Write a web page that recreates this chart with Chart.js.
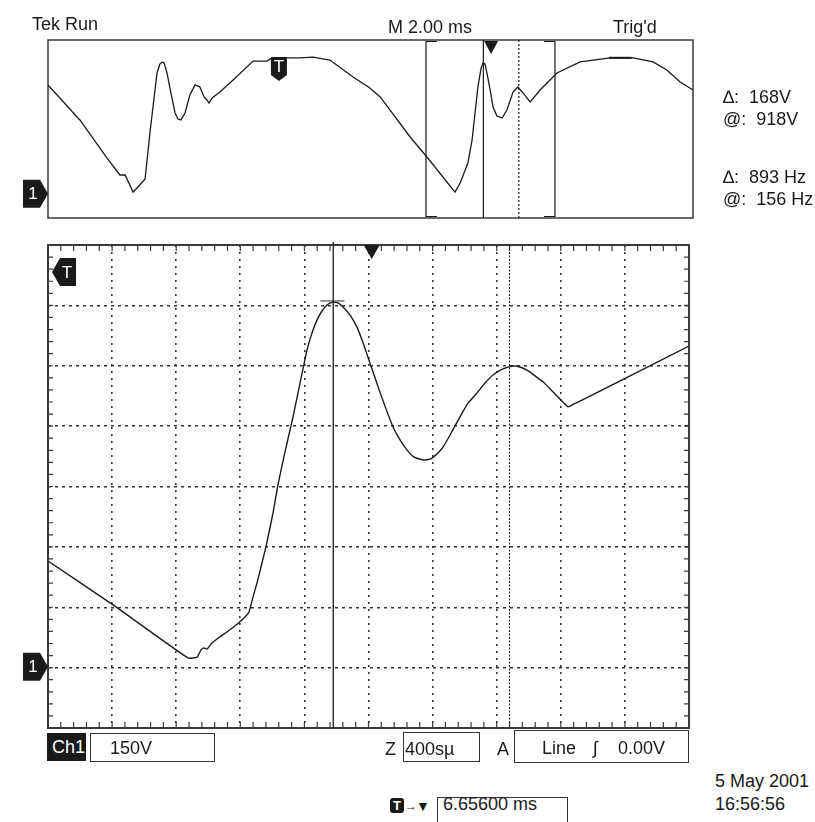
<!DOCTYPE html>
<html>
<head>
<meta charset="utf-8">
<script src="https://cdn.jsdelivr.net/npm/chart.js@4.4.1/dist/chart.umd.min.js"></script>
<style>
  html, body { margin: 0; padding: 0; background: #fff; }
  #page { position: relative; width: 815px; height: 822px; overflow: hidden;
          font-family: "Liberation Sans", Arial, sans-serif; font-size: 18px; color: #1a1a1a; }
  canvas { position: absolute; left: 0; }
  .lbl { position: absolute; line-height: 18px; white-space: pre; }
  .box { position: absolute; border: 1.5px solid #333; box-sizing: border-box; }
</style>
</head>
<body>
<div id="page">
  <canvas id="overview" width="815" height="230" style="top:0"></canvas>
  <canvas id="main" width="815" height="530" style="top:230px"></canvas>

  <div class="lbl" style="left:32px;top:15px">Tek Run</div>
  <div class="lbl" style="left:388px;top:18px">M 2.00 ms</div>
  <div class="lbl" style="left:613px;top:18px">Trig'd</div>

  <div class="lbl" style="left:723px;top:88px">∆:  168V</div>
  <div class="lbl" style="left:723px;top:110px">@:  918V</div>
  <div class="lbl" style="left:723px;top:168px">∆:  893 Hz</div>
  <div class="lbl" style="left:723px;top:190px">@:  156 Hz</div>

  <div class="lbl" style="left:47px;top:733px;width:39px;height:28px;line-height:28px;background:#1a1a1a;color:#fff;padding-left:5px;box-sizing:border-box">Ch1</div>
  <div class="box" style="left:90px;top:733px;width:125px;height:29px"></div>
  <div class="lbl" style="left:110px;top:739px">150V</div>

  <div class="lbl" style="left:385px;top:740px">Z</div>
  <div class="box" style="left:403px;top:732px;width:77px;height:30px"></div>
  <div class="lbl" style="left:405px;top:740px">400sµ</div>
  <div class="lbl" style="left:497px;top:740px">A</div>
  <div class="box" style="left:514px;top:730px;width:175px;height:33px"></div>
  <div class="lbl" style="left:542px;top:739px">Line</div>
  <div class="lbl" style="left:593px;top:739px">∫</div>
  <div class="lbl" style="left:618px;top:739px">0.00V</div>

  <div class="lbl" style="left:715px;top:772px">5 May 2001</div>
  <div class="lbl" style="left:715px;top:795px">16:56:56</div>

  <div class="lbl" style="left:390px;top:798px;width:14px;height:15px;line-height:15px;background:#1a1a1a;color:#fff;border-radius:3px;font-size:13px;font-weight:bold;text-align:center">T</div>
  <div class="lbl" style="left:405px;top:797px;font-size:12px">→</div>
  <div class="lbl" style="left:416px;top:797px;font-size:14px">▼</div>
  <div class="box" style="left:437px;top:797px;width:131px;height:40px"></div>
  <div class="lbl" style="left:443px;top:795px">6.65600 ms</div>
</div>

<script>
// ---- datos ----
// vista general: 2 ms/div, 10 div -> 0..20 ms, 150 V/div
const overviewTime = [0, 0.93, 0.99, 1.83, 1.92, 2.23, 2.39, 2.64, 2.76, 3.01, 3.16, 3.38, 3.47, 3.54, 3.60,
  3.69, 3.81, 3.94, 4.03, 4.12, 4.25, 4.40, 4.56, 4.71, 4.84, 4.93, 4.99, 5.09, 5.33, 5.74, 6.36, 6.79,
  6.95, 7.81, 8.22, 8.74, 9.46, 9.98, 10.30, 11.23, 11.75, 12.62, 12.78, 13.02, 13.15, 13.33, 13.43,
  13.49, 13.55, 13.61, 13.71, 13.80, 13.92, 14.08, 14.23, 14.42, 14.57, 14.73, 14.95, 15.26, 15.78,
  16.50, 17.43, 18.14, 18.76, 19.19, 19.60, 20];
const overviewVolts = [747, 524, 511, 254, 228, 140, 140, 25, 52, 113, 423, 828, 888, 902, 895,
  828, 693, 558, 517, 511, 558, 679, 747, 733, 666, 646, 625, 659, 699, 780, 908, 908,
  929, 929, 935, 915, 801, 726, 666, 396, 261, 25, 86, 221, 376, 733, 861,
  895, 888, 828, 713, 598, 538, 524, 578, 699, 733, 693, 632, 713, 828,
  902, 929, 929, 902, 848, 767, 713];

// ventana ampliada: 400 us/div, 10 div -> 0..4 ms
const mainTime = [0, 0.424, 0.874, 0.930, 0.955, 0.973, 0.992, 1.023, 1.055, 1.148, 1.217, 1.254, 1.279,
  1.304, 1.329, 1.360, 1.404, 1.435, 1.479, 1.529, 1.573, 1.616, 1.647, 1.679, 1.710, 1.741, 1.778,
  1.810, 1.841, 1.885, 1.928, 1.966, 2.009, 2.078, 2.153, 2.197, 2.240, 2.284, 2.340, 2.384, 2.427,
  2.465, 2.509, 2.571, 2.621, 2.677, 2.727, 2.777, 2.839, 2.902, 2.945, 2.989, 3.039, 3.089, 3.164,
  3.245, 3.282, 3.320, 4.0];
const mainVolts = [265, 151, 24, 26, 44, 49, 46, 61, 71, 98, 121, 138, 175,
  210, 250, 300, 384, 454, 536, 623, 707, 789, 831, 864, 886, 901, 908,
  906, 896, 876, 846, 807, 757, 677, 598, 566, 541, 523, 516, 518, 531,
  548, 578, 623, 657, 682, 707, 727, 742, 749, 747, 739, 725, 710, 680,
  648, 655, 662, 799];

// rejilla de la pantalla
const mainTimeGrid = [0, 0.4, 0.8, 1.2, 1.6, 2.0, 2.4, 2.8, 3.2, 3.6, 4.0];
const voltGrid = [-150, 0, 150, 300, 450, 600, 750, 900, 1050];

// marcas (ms absolutos en la vista general)
const zoomStart = 11.72;
const zoomWidth = 4;
const cursorA = 13.50;
const cursorB = 14.60;
const triggerTime = 13.74;
const triggerMarkTime = 7.16;
const triggerLevel = 983;
const groundLevel = 0;
const peakLevel = 911;

const INK = '#1a1a1a';
const FRAME = '#3a3a3a';

function toPoints(xs, ys) {
  return xs.map((x, i) => ({ x: x, y: ys[i] }));
}

// marcador con texto blanco (flecha hacia un lado)
function drawTag(ctx, x, y, dir, label) {
  ctx.save();
  ctx.fillStyle = INK;
  ctx.beginPath();
  if (dir === 'right') {         // punta en (x, y)
    ctx.moveTo(x, y); ctx.lineTo(x - 8, y - 14); ctx.lineTo(x - 25, y - 14);
    ctx.lineTo(x - 25, y + 14); ctx.lineTo(x - 8, y + 14);
  } else if (dir === 'left') {
    ctx.moveTo(x, y); ctx.lineTo(x + 8, y - 14); ctx.lineTo(x + 24, y - 14);
    ctx.lineTo(x + 24, y + 14); ctx.lineTo(x + 8, y + 14);
  } else {                       // hacia abajo, (x, y) = punta
    ctx.moveTo(x, y); ctx.lineTo(x - 8, y - 6); ctx.lineTo(x - 8, y - 24);
    ctx.lineTo(x + 8, y - 24); ctx.lineTo(x + 8, y - 6);
  }
  ctx.closePath();
  ctx.fill();
  ctx.fillStyle = '#fff';
  ctx.font = '17px "Liberation Sans", Arial, sans-serif';
  ctx.textAlign = 'center';
  ctx.textBaseline = 'middle';
  if (dir === 'right') ctx.fillText(label, x - 15, y + 1);
  else if (dir === 'left') ctx.fillText(label, x + 15, y + 1);
  else ctx.fillText(label, x, y - 14);
  ctx.restore();
}

function drawTriangleDown(ctx, x, top, w, h) {
  ctx.save();
  ctx.fillStyle = INK;
  ctx.beginPath();
  ctx.moveTo(x - w / 2, top); ctx.lineTo(x + w / 2, top); ctx.lineTo(x, top + h);
  ctx.closePath();
  ctx.fill();
  ctx.restore();
}

function vline(ctx, x, y1, y2, dash, width) {
  ctx.save();
  ctx.strokeStyle = INK;
  ctx.lineWidth = width || 1.2;
  ctx.setLineDash(dash || []);
  ctx.beginPath(); ctx.moveTo(x, y1); ctx.lineTo(x, y2); ctx.stroke();
  ctx.restore();
}

const overviewDeco = {
  id: 'overviewDeco',
  afterDatasetsDraw(chart) {
    const { ctx, chartArea: a, scales: { x, y } } = chart;
    ctx.save();
    ctx.strokeStyle = FRAME;
    ctx.lineWidth = 1.5;
    ctx.strokeRect(a.left, a.top, a.right - a.left, a.bottom - a.top);

    // ventana del zoom con esquinas
    const zl = x.getPixelForValue(zoomStart);
    const zr = x.getPixelForValue(zoomStart + zoomWidth);
    ctx.strokeStyle = INK;
    ctx.lineWidth = 1.2;
    ctx.beginPath();
    ctx.moveTo(zl + 11, a.top + 1.5); ctx.lineTo(zl, a.top + 1.5); ctx.lineTo(zl, a.bottom - 1.5); ctx.lineTo(zl + 11, a.bottom - 1.5);
    ctx.moveTo(zr - 11, a.top + 1.5); ctx.lineTo(zr, a.top + 1.5); ctx.lineTo(zr, a.bottom - 1.5); ctx.lineTo(zr - 11, a.bottom - 1.5);
    ctx.stroke();
    ctx.restore();

    vline(ctx, x.getPixelForValue(cursorA), a.top, a.bottom);
    vline(ctx, x.getPixelForValue(cursorB), a.top, a.bottom, [2, 2]);
    drawTriangleDown(ctx, x.getPixelForValue(triggerTime), a.top + 1, 14, 13);

    // nivel del cursor sobre la meseta
    ctx.save();
    ctx.strokeStyle = INK; ctx.lineWidth = 2;
    ctx.beginPath();
    ctx.moveTo(x.getPixelForValue(17.4), y.getPixelForValue(930));
    ctx.lineTo(x.getPixelForValue(18.1), y.getPixelForValue(930));
    ctx.stroke();
    ctx.restore();

    drawTag(ctx, x.getPixelForValue(triggerMarkTime), a.top + 41, 'down', 'T');
    drawTag(ctx, a.left, y.getPixelForValue(groundLevel) - 2, 'right', '1');
  }
};

const mainDeco = {
  id: 'mainDeco',
  afterDatasetsDraw(chart) {
    const { ctx, chartArea: a, scales: { x, y } } = chart;
    ctx.save();
    // marcas menores, 5 por division
    ctx.strokeStyle = FRAME;
    ctx.lineWidth = 1.2;
    ctx.beginPath();
    for (let i = 0; i <= 50; i++) {
      const px = x.getPixelForValue(i * zoomWidth / 50);
      ctx.moveTo(px, a.top); ctx.lineTo(px, a.top + 6);
      ctx.moveTo(px, a.bottom); ctx.lineTo(px, a.bottom - 6);
    }
    for (let i = 0; i <= 40; i++) {
      const py = y.getPixelForValue(-150 + i * 30);
      ctx.moveTo(a.left, py); ctx.lineTo(a.left + 5, py);
      ctx.moveTo(a.right, py); ctx.lineTo(a.right - 5, py);
    }
    ctx.stroke();

    ctx.lineWidth = 2;
    ctx.strokeRect(a.left, a.top, a.right - a.left, a.bottom - a.top);

    // marca del pico
    ctx.strokeStyle = '#555';
    ctx.lineWidth = 1.2;
    ctx.beginPath();
    ctx.moveTo(x.getPixelForValue(1.70), y.getPixelForValue(peakLevel));
    ctx.lineTo(x.getPixelForValue(1.85), y.getPixelForValue(peakLevel));
    ctx.stroke();
    ctx.restore();

    vline(ctx, x.getPixelForValue(cursorA - zoomStart), a.top - 3, a.bottom, [], 1.3);
    vline(ctx, x.getPixelForValue(cursorB - zoomStart), a.top, a.bottom, [2, 1.5], 1.1);
    drawTriangleDown(ctx, x.getPixelForValue(triggerTime - zoomStart), a.top, 16, 14);

    drawTag(ctx, a.left + 4, y.getPixelForValue(triggerLevel), 'left', 'T');
    drawTag(ctx, a.left, y.getPixelForValue(groundLevel) - 1, 'right', '1');
  }
};

new Chart(document.getElementById('overview'), {
  type: 'line',
  data: {
    datasets: [{
      data: toPoints(overviewTime, overviewVolts),
      borderColor: INK,
      borderWidth: 1.3,
      pointRadius: 0,
      tension: 0
    }]
  },
  options: {
    responsive: false,
    animation: false,
    layout: { padding: { left: 48, top: 40, right: 122, bottom: 12 } },
    plugins: { legend: { display: false }, tooltip: { enabled: false } },
    scales: {
      x: { type: 'linear', min: 0, max: 20, display: false },
      y: { min: -150, max: 1050, display: false }
    }
  },
  plugins: [overviewDeco]
});

new Chart(document.getElementById('main'), {
  type: 'line',
  data: {
    datasets: [{
      data: toPoints(mainTime, mainVolts),
      borderColor: INK,
      borderWidth: 1.4,
      pointRadius: 0,
      tension: 0.15
    }]
  },
  options: {
    responsive: false,
    animation: false,
    layout: { padding: { left: 48, top: 15, right: 126, bottom: 32 } },
    plugins: { legend: { display: false }, tooltip: { enabled: false } },
    scales: {
      x: {
        type: 'linear', min: 0, max: zoomWidth,
        afterBuildTicks: (s) => { s.ticks = mainTimeGrid.map(v => ({ value: v })); },
        ticks: { display: false },
        grid: { drawTicks: false, color: '#333', lineWidth: 1.6 },
        border: { display: false, dash: [2, 5] }
      },
      y: {
        min: -150, max: 1050,
        afterBuildTicks: (s) => { s.ticks = voltGrid.map(v => ({ value: v })); },
        ticks: { display: false },
        grid: { drawTicks: false, color: '#333', lineWidth: 1.4 },
        border: { display: false, dash: [3, 4] }
      }
    }
  },
  plugins: [mainDeco]
});
</script>
</body>
</html>
